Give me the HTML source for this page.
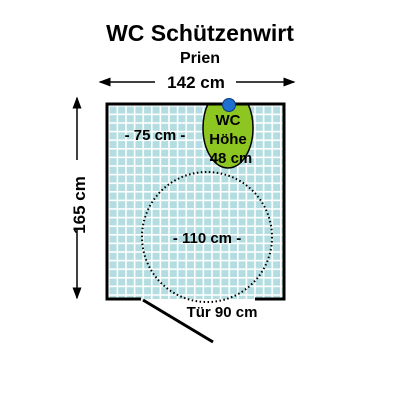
<!DOCTYPE html>
<html><head><meta charset="utf-8"><style>
html,body{margin:0;padding:0;background:#fff;}
svg{display:block;font-family:"Liberation Sans",sans-serif;font-weight:bold;}
</style></head><body>
<svg width="400" height="400" viewBox="0 0 400 400">
<defs>
<pattern id="tiles" x="108" y="105" width="8.6" height="8.6" patternUnits="userSpaceOnUse">
<rect width="8.6" height="8.6" fill="#ffffff"/>
<rect x="1.6" y="1.6" width="7" height="7" fill="#b3dde0"/>
</pattern>
<clipPath id="wcclip"><rect x="190" y="104" width="80" height="80"/></clipPath>
<marker id="ah" markerWidth="8" markerHeight="8" refX="7" refY="4" orient="auto"><path d="M0,1 L8,4 L0,7 z" fill="#000"/></marker>
</defs>
<text x="200" y="41" font-size="23" text-anchor="middle">WC Schützenwirt</text>
<text x="200" y="63" font-size="16" text-anchor="middle">Prien</text>
<text x="196" y="88" font-size="17" text-anchor="middle">142 cm</text>
<line x1="155" y1="82" x2="100" y2="82" stroke="#000" stroke-width="1.5" marker-end="url(#ah)"/>
<line x1="236" y1="82" x2="294" y2="82" stroke="#000" stroke-width="1.5" marker-end="url(#ah)"/>
<line x1="77" y1="160" x2="77" y2="98" stroke="#000" stroke-width="1.5" marker-end="url(#ah)"/>
<line x1="77" y1="228" x2="77" y2="298" stroke="#000" stroke-width="1.5" marker-end="url(#ah)"/>
<text x="0" y="0" font-size="17" text-anchor="middle" transform="translate(85,205) rotate(-90)">165 cm</text>
<rect x="107" y="104" width="177" height="195" fill="url(#tiles)"/>
<path d="M141,299 L107,299 L107,104 L284,104 L284,299 L255,299" fill="none" stroke="#000" stroke-width="3"/>
<line x1="143" y1="300" x2="213" y2="342" stroke="#000" stroke-width="3"/>
<ellipse cx="228" cy="128" rx="25" ry="40" fill="#8dc620" stroke="#000" stroke-width="1.5" clip-path="url(#wcclip)"/>
<line x1="205" y1="104" x2="251" y2="104" stroke="#000" stroke-width="3"/>
<circle cx="229" cy="105" r="6.5" fill="#1f6fcf" stroke="#0a3a80" stroke-width="1"/>
<circle cx="207" cy="237" r="65" fill="none" stroke="#000" stroke-width="2" stroke-dasharray="1.5 2.5"/>
<text x="228" y="125" font-size="15" text-anchor="middle">WC</text>
<text x="228" y="144" font-size="15" text-anchor="middle">Höhe</text>
<text x="231" y="163" font-size="15" text-anchor="middle">48 cm</text>
<text x="155" y="140" font-size="15" text-anchor="middle">- 75 cm -</text>
<text x="207" y="243" font-size="15" text-anchor="middle">- 110 cm -</text>
<text x="222" y="317" font-size="15" text-anchor="middle">Tür 90 cm</text>
</svg>
</body></html>
